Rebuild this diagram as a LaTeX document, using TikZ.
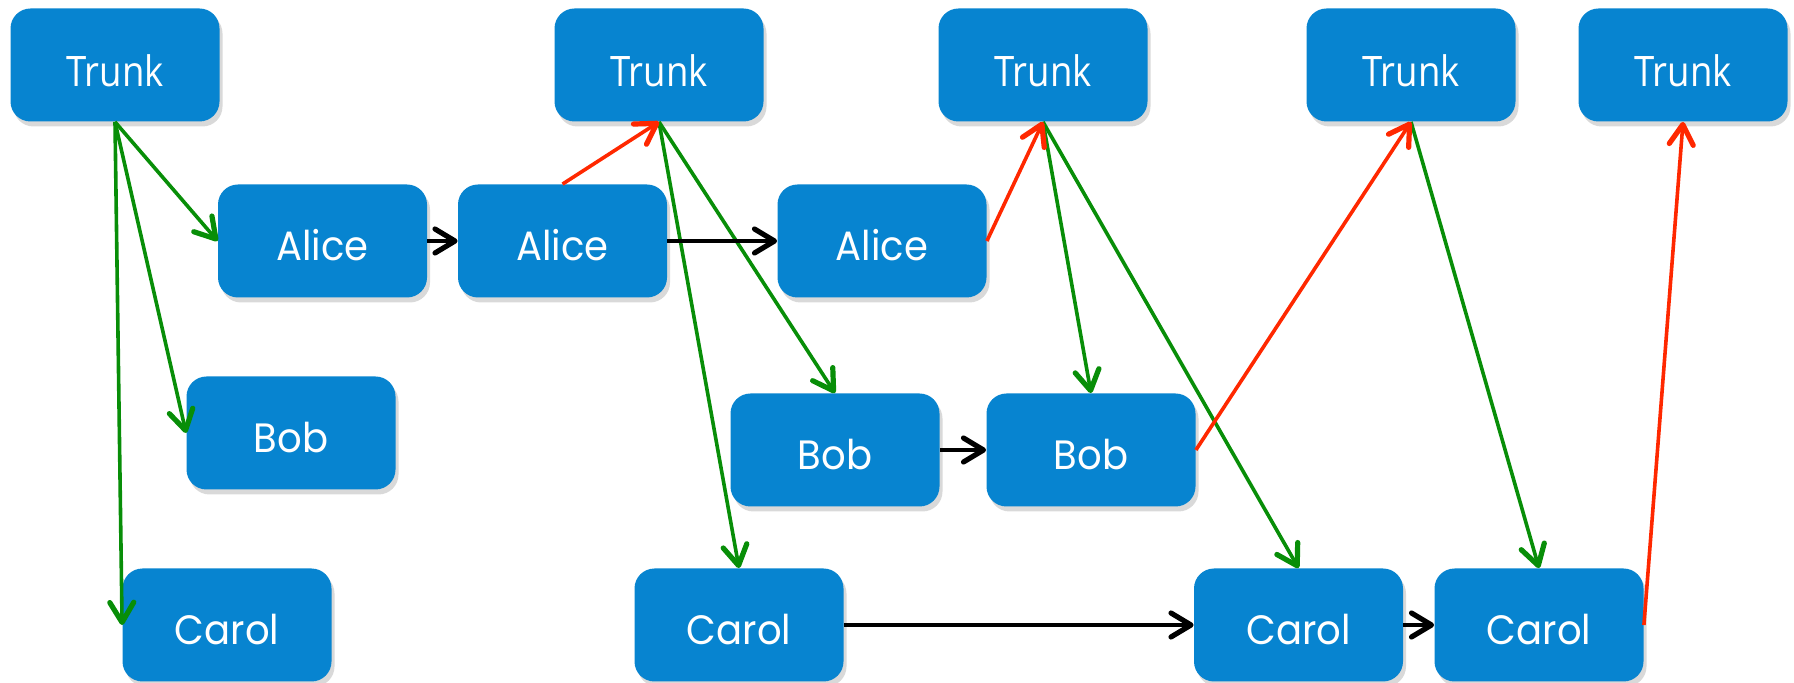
\documentclass[tikz,border=0pt]{standalone}
\usepackage{fontspec}
\setmainfont[FakeStretch=0.94]{Poppins}
\newfontfamily\trunkfont[FakeStretch=0.87]{Open Sans}
\usepackage{xcolor}
\usepackage{tikz}
\usetikzlibrary{arrows.meta, shadows}
\definecolor{boxblue}{RGB}{7,132,208}
\definecolor{pullgreen}{RGB}{8,142,8}
\definecolor{pushred}{RGB}{255,40,0}
\tikzstyle{repo}=[shape=rectangle, rounded corners=10pt, fill=boxblue, text=white, minimum width=104.5pt, minimum height=56.5pt, inner sep=0, text height=19.5pt, text depth=0pt, drop shadow={shadow xshift=1.5pt, shadow yshift=-2.5pt, opacity=0.3}, font=\fontsize{20.5}{24}\selectfont]
\tikzstyle{trunk}=[repo, text height=21.5pt, font=\trunkfont\fontsize{21}{24}\selectfont]
\tikzstyle{tip}=[line width=1.8pt, -{Straight Barb[length=10pt, width=12pt, line width=2.6pt, round]}]
\tikzstyle{pull}=[tip, draw=pullgreen]
\tikzstyle{push}=[tip, draw=pushred]
\tikzstyle{copy}=[tip, draw=black]

\begin{document}
\begin{tikzpicture}[x=0.5pt, y=-0.5pt]
\useasboundingbox (0,0) rectangle (1794,683);
% trunk row
\node[trunk] (T1) at (115,65) {Trunk};
\node[trunk] (T2) at (659,65) {Trunk};
\node[trunk] (T3) at (1043,65) {Trunk};
\node[trunk] (T4) at (1411,65) {Trunk};
\node[trunk] (T5) at (1683,65) {Trunk};
% working copies
\node[repo] (A1) at (322.5,241) {Alice};
\node[repo] (A2) at (562.5,241) {Alice};
\node[repo] (A3) at (882,241) {Alice};
\node[repo] (B1) at (291,433) {Bob};
\node[repo] (B2) at (835,450) {Bob};
\node[repo] (B3) at (1091,450) {Bob};
\node[repo] (C1) at (227,625) {Carol};
\node[repo] (C2) at (739,625) {Carol};
\node[repo] (C3) at (1298.5,625) {Carol};
\node[repo] (C4) at (1539,625) {Carol};
% checkouts
\draw[pull] (T1.south)--(A1.west);
\draw[pull] (T1.south)--(B1.west);
\draw[pull] (T1.south)--(C1.west);
\draw[pull] (T2.south)--(B2.north);
\draw[pull] (T2.south)--(C2.north);
\draw[pull] (T3.south)--(B3.north);
\draw[pull] (T3.south)--(C3.north);
\draw[pull] (T4.south)--(C4.north);
% commits
\draw[push] (A2.north)--(T2.south);
\draw[push] (A3.east)--(T3.south);
\draw[push] (B3.east)--(T4.south);
\draw[push] (C4.east)--(T5.south);
% edits
\draw[copy] (A1.east)--(A2.west);
\draw[copy] (A2.east)--(A3.west);
\draw[copy] (B2.east)--(B3.west);
\draw[copy] (C2.east)--(C3.west);
\draw[copy] (C3.east)--(C4.west);
\end{tikzpicture}
\end{document}
